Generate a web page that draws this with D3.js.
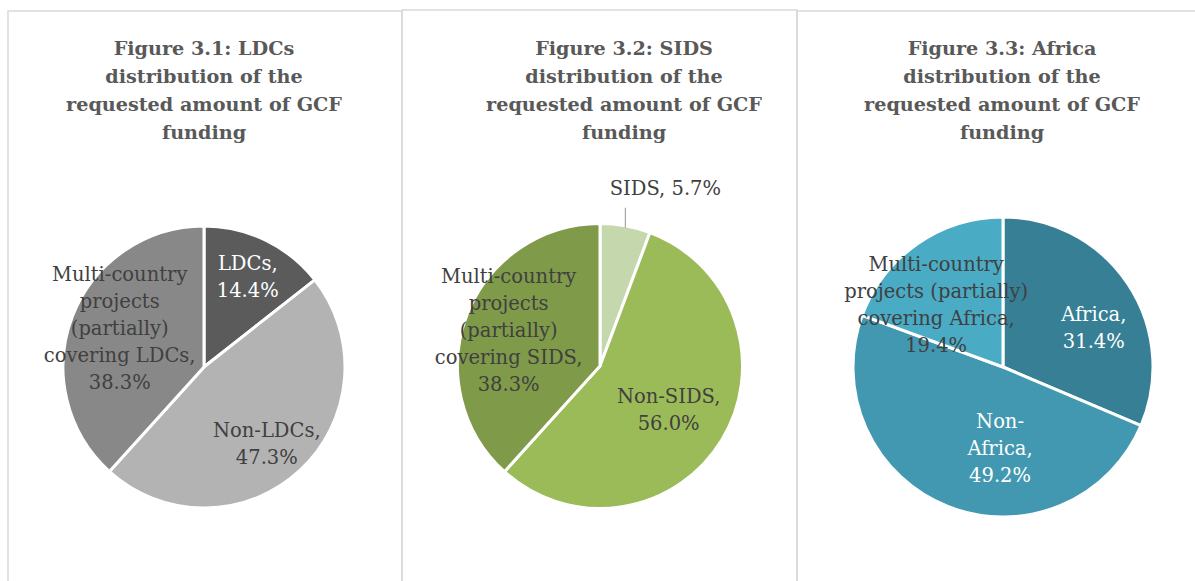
<!DOCTYPE html>
<html>
<head>
<meta charset="utf-8">
<script src="https://cdn.jsdelivr.net/npm/d3@7"></script>
<style>
  body { margin: 0; background: #fff; }
  svg { display: block; }
  .title { font-family: "DejaVu Serif", serif; font-weight: bold; fill: #595959; }
  .lbl { font-family: "DejaVu Serif", serif; }
</style>
</head>
<body>
<svg id="chart" width="1195" height="581"></svg>
<script>
// ---- data ----
const titles1 = ["Figure 3.1: LDCs", "distribution of the", "requested amount of GCF", "funding"];
const titles2 = ["Figure 3.2: SIDS", "distribution of the", "requested amount of GCF", "funding"];
const titles3 = ["Figure 3.3: Africa", "distribution of the", "requested amount of GCF", "funding"];

const categories1 = ["LDCs", "Non-LDCs", "Multi-country projects (partially) covering LDCs"];
const values1 = [14.4, 47.3, 38.3];
const labelLines1 = [["LDCs,"], ["Non-LDCs,"], ["Multi-country", "projects", "(partially)", "covering LDCs,"]];

const categories2 = ["SIDS", "Non-SIDS", "Multi-country projects (partially) covering SIDS"];
const values2 = [5.7, 56.0, 38.3];
const labelLines2 = [["SIDS, "], ["Non-SIDS,"], ["Multi-country", "projects", "(partially)", "covering SIDS,"]];

const categories3 = ["Africa", "Non-Africa", "Multi-country projects (partially) covering Africa"];
const values3 = [31.4, 49.2, 19.4];
const labelLines3 = [["Africa,"], ["Non-", "Africa,"], ["Multi-country", "projects (partially)", "covering Africa,"]];

// ---- layout / style ----
const charts = [
  { titles: titles1, cats: categories1, vals: values1, lines: labelLines1,
    box: [8, 11, 394], cx: 204, cy: 367, r: 141, tx: 204,
    colors: ["#5b5b5b", "#b3b3b3", "#888888"],
    textColors: ["#ffffff", "#404040", "#404040"],
    place: [[0.71, 0], [0.70, 3.5], [0.66, 4]], outside: [] },
  { titles: titles2, cats: categories2, vals: values2, lines: labelLines2,
    box: [402, 10, 395], cx: 600, cy: 366, r: 142.5, tx: 624,
    colors: ["#c5d7ad", "#9bbb59", "#7f9a48"],
    textColors: ["#404040", "#404040", "#404040"],
    place: [[0, 0], [0.57, 1], [0.69, 0.6]], outside: [0] },
  { titles: titles3, cats: categories3, vals: values3, lines: labelLines3,
    box: [797, 11, 420], cx: 1003, cy: 367, r: 150, tx: 1002,
    colors: ["#367f94", "#4298b0", "#4aabc5"],
    textColors: ["#ffffff", "#ffffff", "#404040"],
    place: [[0.66, 10], [0.54, -19.5], [0.61, -12]], outside: [] }
];

const titleSize = 19.2, titleStep = 28, titleBase = 55;
const labelSize = 19.5, labelStep = 27;
const fmt = d => d3.format(".1f")(d) + "%";

const svg = d3.select("#chart");
const pie = d3.pie().sort(null).value(d => d);

charts.forEach(c => {
  // frame
  svg.append("rect")
    .attr("x", c.box[0]).attr("y", c.box[1])
    .attr("width", c.box[2]).attr("height", 700)
    .attr("fill", "none").attr("stroke", "#d9d9d9").attr("stroke-width", 1.5);

  // title
  svg.append("text").attr("class", "title")
    .attr("text-anchor", "middle").style("font-size", titleSize + "px")
    .selectAll("tspan").data(c.titles).join("tspan")
    .attr("x", c.tx).attr("y", (d, i) => titleBase + i * titleStep)
    .text(d => d);

  const arcs = pie(c.vals);
  const arc = d3.arc().innerRadius(0).outerRadius(c.r);
  const g = svg.append("g").attr("transform", `translate(${c.cx},${c.cy})`);

  g.selectAll("path").data(arcs).join("path")
    .attr("d", arc)
    .attr("fill", (d, i) => c.colors[i])
    .attr("stroke", "#fff").attr("stroke-width", 3).attr("stroke-linejoin", "round");

  arcs.forEach((d, i) => {
    const mid = (d.startAngle + d.endAngle) / 2;
    if (c.outside.includes(i)) {
      // callout label with a short leader
      const px = c.r * Math.sin(mid), py = -c.r * Math.cos(mid);
      g.append("line")
        .attr("x1", px).attr("y1", py + 2)
        .attr("x2", px).attr("y2", py - 18)
        .attr("stroke", "#a6a6a6").attr("stroke-width", 1.2);
      g.append("text").attr("class", "lbl")
        .attr("x", px + 40).attr("y", py - 31)
        .attr("text-anchor", "middle").style("font-size", labelSize + "px")
        .attr("fill", c.textColors[i])
        .text(c.lines[i].join(" ") + fmt(c.vals[i]));
      return;
    }
    const [frac, shift] = c.place[i];
    const a = mid + shift * Math.PI / 180;
    const lx = frac * c.r * Math.sin(a), ly = -frac * c.r * Math.cos(a);
    const lines = c.lines[i].concat([fmt(c.vals[i])]);
    const y0 = ly - (lines.length - 1) * labelStep / 2 + labelSize * 0.36;
    g.append("text").attr("class", "lbl")
      .attr("text-anchor", "middle").style("font-size", labelSize + "px")
      .attr("fill", c.textColors[i])
      .selectAll("tspan").data(lines).join("tspan")
      .attr("x", lx).attr("y", (t, k) => y0 + k * labelStep)
      .text(t => t);
  });
});
</script>
</body>
</html>
